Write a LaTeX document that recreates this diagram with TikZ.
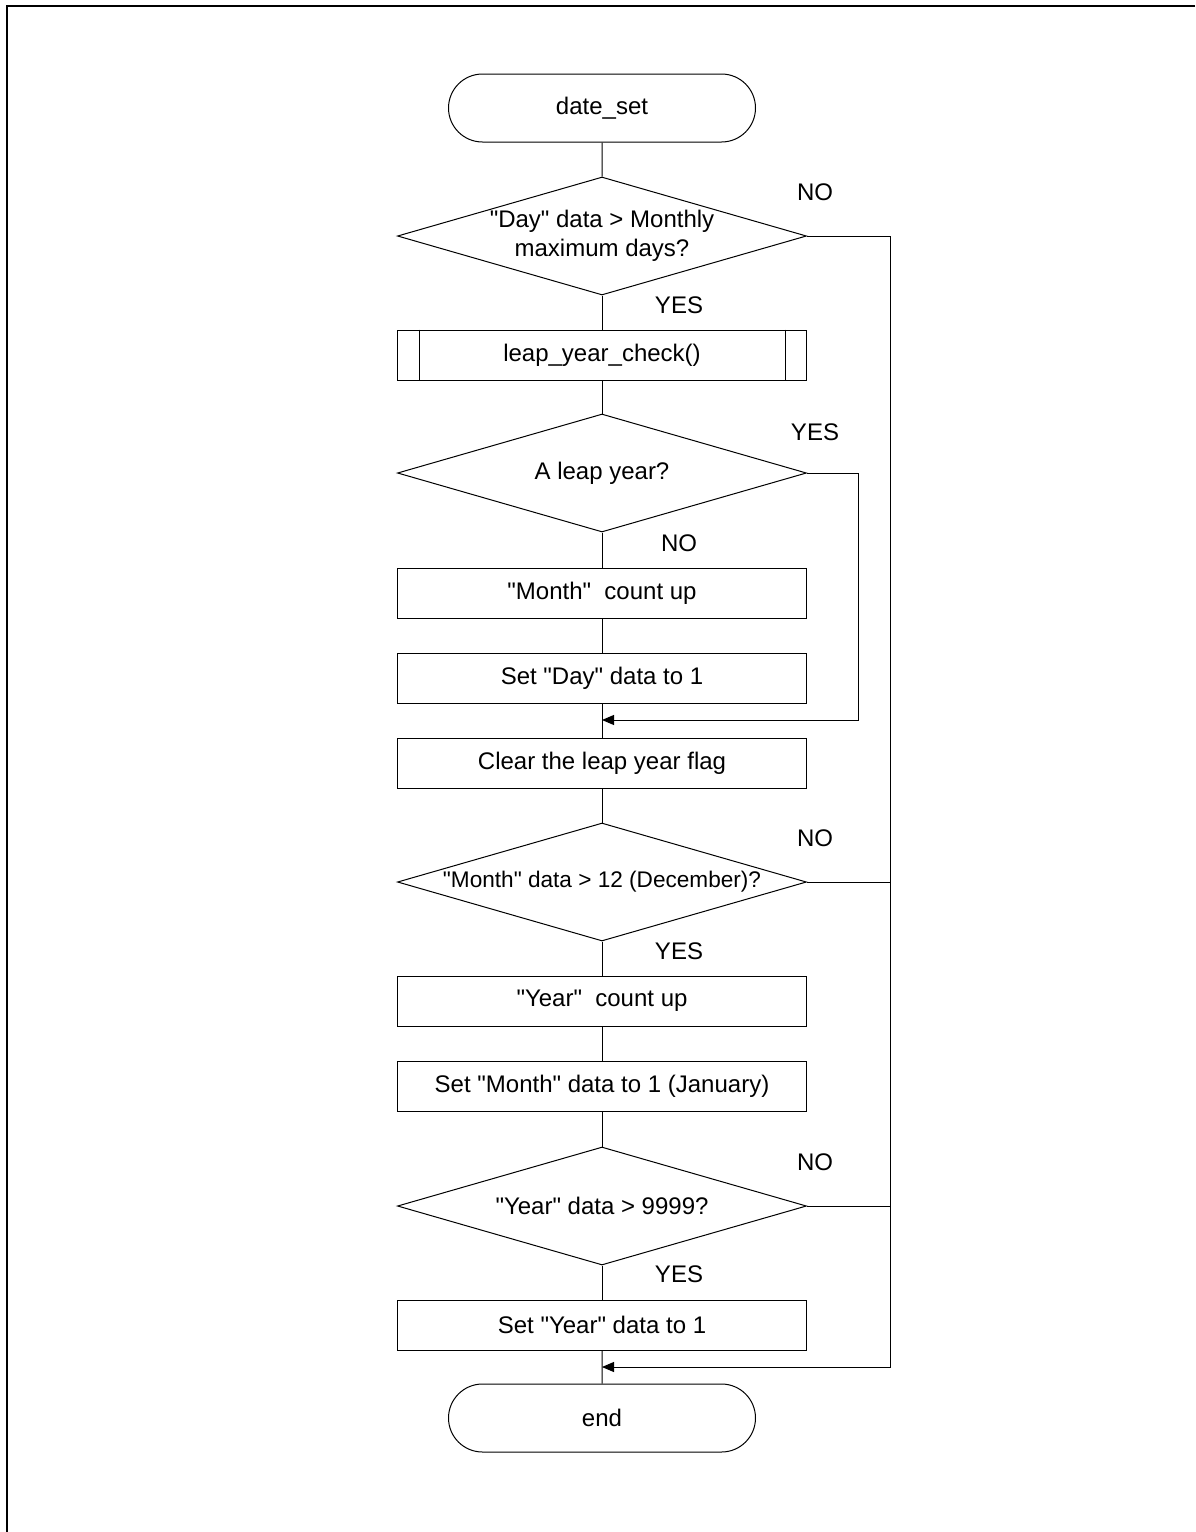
\documentclass[tikz,border=0pt]{standalone}
\usepackage{fontspec}
\setmainfont{Liberation Sans}[Ligatures=TeXOff]
\usetikzlibrary{shapes.geometric,shapes.misc,arrows.meta}

\tikzset{
  every node/.style={font=\fontsize{12}{14.4}\selectfont},
  terminal/.style={draw, rounded rectangle, minimum width=153.5pt, minimum height=34pt, inner sep=0pt},
  process/.style={draw, rectangle, minimum width=204.5pt, minimum height=25pt, inner sep=0pt},
  decision/.style={draw, diamond, minimum width=204.5pt, minimum height=59pt, inner sep=0pt},
  answer/.style={inner sep=0pt},
  arrowto/.style={-{Triangle[length=6pt,width=5pt]}},
}

\begin{document}
\begin{tikzpicture}[x=0.5pt,y=-0.5pt,line width=0.5pt]
\useasboundingbox (0,0) rectangle (1195,1532);
% Frame
\draw[line width=1pt] (1195,6) -- (7,6) -- (7,1532);

% Main column
\node[terminal] (start) at (602,108) {date\_set};
\node[decision, label={[align=center]center:{"Day" data > Monthly\\maximum days?}}] (d1) at (602,236) {};
\node[process] (chk) at (602,355) {leap\_year\_check()};
\draw ([xshift=11pt]chk.north west) -- ([xshift=11pt]chk.south west);
\draw ([xshift=-11pt]chk.north east) -- ([xshift=-11pt]chk.south east);
\node[decision, label=center:{A leap year?}] (d2) at (602,473) {};
\node[process] (mon) at (602,593) {"Month"\ \ count up};
\node[process] (day) at (602,678) {Set "Day" data to 1};
\node[process] (clr) at (602,763) {Clear the leap year flag};
\node[decision, label={[font=\fontsize{11.3}{13.5}\selectfont]center:{"Month" data > 12 (December)?}}] (d3) at (602,882) {};
\node[process] (yr) at (602,1001) {"Year"\ \ count up};
\node[process] (setm) at (602,1086) {Set "Month" data to 1 (January)};
\node[decision, label=center:{"Year" data > 9999?}] (d4) at (602,1206) {};
\node[process] (sety) at (602,1325) {Set "Year" data to 1};
\node[terminal] (stop) at (602,1418) {end};

% Branch labels
\node[answer] (no1) at (815,192) {NO};
\node[answer] (yes1) at (679,305) {YES};
\node[answer] (yes2) at (815,432) {YES};
\node[answer] (no2) at (679,543) {NO};
\node[answer] (no3) at (815,838) {NO};
\node[answer] (yes3) at (679,951) {YES};
\node[answer] (no4) at (815,1162) {NO};
\node[answer] (yes4) at (679,1274) {YES};

% Flow
\draw (start) -- (d1);
\draw (d1) -- (chk);
\draw (chk) -- (d2);
\draw (d2) -- (mon);
\draw (mon) -- (day);
\draw (day) -- (clr);
\draw (clr) -- (d3);
\draw (d3) -- (yr);
\draw (yr) -- (setm);
\draw (setm) -- (d4);
\draw (d4) -- (sety);
\draw (sety) -- (stop);

% Side returns
\coordinate (rsa) at (858,720);
\coordinate (joina) at (602,720);
\coordinate (rsb) at (890,1367);
\coordinate (joinb) at (602,1367);
\draw[arrowto] (d2.east) -| (rsa) -- (joina);
\draw[arrowto] (d1.east) -| (rsb) -- (joinb);
\draw (d3.east) -- (d3.east -| rsb);
\draw (d4.east) -- (d4.east -| rsb);
\end{tikzpicture}
\end{document}
